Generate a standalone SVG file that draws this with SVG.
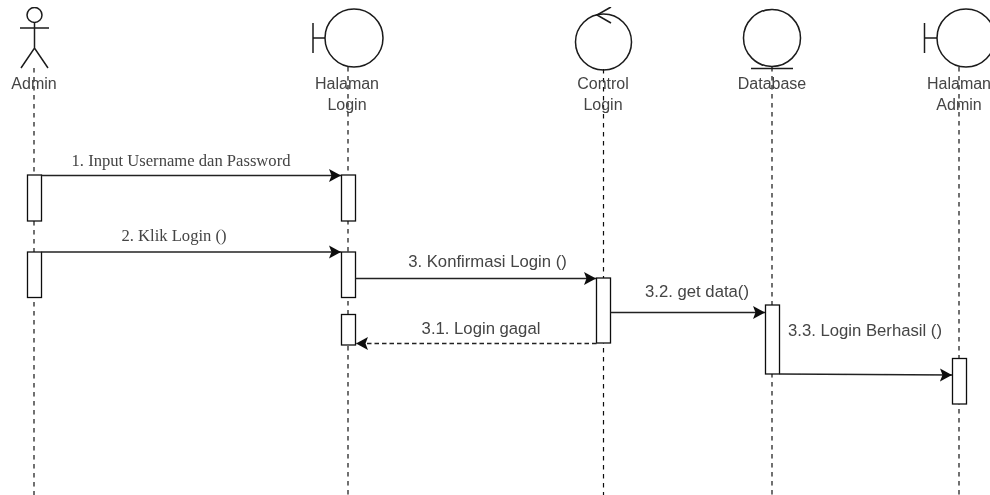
<svg xmlns="http://www.w3.org/2000/svg" width="990" height="495" viewBox="0 0 990 495">
<style>
.s{fill:none;stroke:#1a1a1a;stroke-width:1.5}
.life{fill:none;stroke:#111;stroke-width:1.2;stroke-dasharray:4.5 4.5}
.act{fill:#fff;stroke:#111;stroke-width:1.3}
.msg{fill:none;stroke:#222;stroke-width:1.4}
.t{font-family:"Liberation Sans",Arial,sans-serif;font-size:16px;fill:#444;text-anchor:middle}
.l{font-family:"Liberation Sans",Arial,sans-serif;font-size:16.700px;fill:#444;text-anchor:middle}
.f{font-family:"Liberation Serif","Times New Roman",serif;font-size:16.600px;fill:#444;text-anchor:middle}
</style>
<defs>
<marker id="a" markerUnits="userSpaceOnUse" markerWidth="13" markerHeight="14" refX="12" refY="7" orient="auto"><path d="M0 0.500L12 7L0 13.500L2.500 7Z" fill="#111"/></marker>
<filter id="soft" x="0" y="0" width="100%" height="100%"><feGaussianBlur stdDeviation="0.450"/></filter>
</defs>
<rect width="990" height="495" fill="#fff"/>
<g filter="url(#soft)">
<g id="connectors">
<path class="life" d="M34 68V495"/>
<path class="life" d="M348 67V495"/>
<path class="life" d="M603.500 69V495"/>
<path class="life" d="M772 67V495"/>
<path class="life" d="M959 67V495"/>
</g>
<g id="admin">
<circle class="s" cx="34.500" cy="15" r="7.500"/>
<path class="s" d="M20 28H49M34.500 22.500V48M21 68L34.500 48L48 68"/>
<text class="t" x="34" y="89">Admin</text>
</g>
<g id="halaman-login">
<circle class="s" cx="354" cy="38" r="29"/>
<path class="s" d="M313 23V53M313 38H325"/>
<text class="t" x="347" y="89">Halaman</text>
<text class="t" x="347" y="110">Login</text>
</g>
<g id="control-login">
<circle class="s" cx="603.500" cy="42" r="28"/>
<path class="s" d="M611 7L597 15L611 23"/>
<text class="t" x="603" y="89">Control</text>
<text class="t" x="603" y="110">Login</text>
</g>
<g id="database">
<circle class="s" cx="772" cy="38" r="28.500"/>
<path class="s" d="M751 68.500H793"/>
<text class="t" x="772" y="89">Database</text>
</g>
<g id="halaman-admin">
<circle class="s" cx="966" cy="38" r="29"/>
<path class="s" d="M924.500 23V53M924.500 38H937"/>
<text class="t" x="959" y="89">Halaman</text>
<text class="t" x="959" y="110">Admin</text>
</g>
<g id="activations">
<rect class="act" x="27.500" y="175" width="14" height="46"/>
<rect class="act" x="27.500" y="252" width="14" height="45.500"/>
<rect class="act" x="341.500" y="175" width="14" height="46"/>
<rect class="act" x="341.500" y="252" width="14" height="45.500"/>
<rect class="act" x="341.500" y="314.500" width="14" height="30.500"/>
<rect class="act" x="596.500" y="278" width="14" height="65"/>
<rect class="act" x="765.500" y="305" width="14" height="69"/>
<rect class="act" x="952.500" y="358.500" width="14" height="45.500"/>
</g>
<g id="messages">
<path class="msg" d="M41.500 175.500H341" marker-end="url(#a)"/>
<path class="msg" d="M41.500 252H341" marker-end="url(#a)"/>
<path class="msg" d="M355.500 278.500H596" marker-end="url(#a)"/>
<path class="msg" d="M610.500 312.500H765" marker-end="url(#a)"/>
<path class="msg" d="M779.500 374L952 375" marker-end="url(#a)"/>
<path class="msg" d="M596.500 343.500H356" stroke-dasharray="4.500 3" marker-end="url(#a)"/>
<text class="f" x="181" y="166">1. Input Username dan Password</text>
<text class="f" x="174" y="241">2. Klik Login ()</text>
<text class="l" x="487.500" y="267">3. Konfirmasi Login ()</text>
<text class="l" x="697" y="297">3.2. get data()</text>
<text class="l" x="481" y="334">3.1. Login gagal</text>
<text class="l" x="865" y="336">3.3. Login Berhasil ()</text>
</g>
</g>
</svg>
